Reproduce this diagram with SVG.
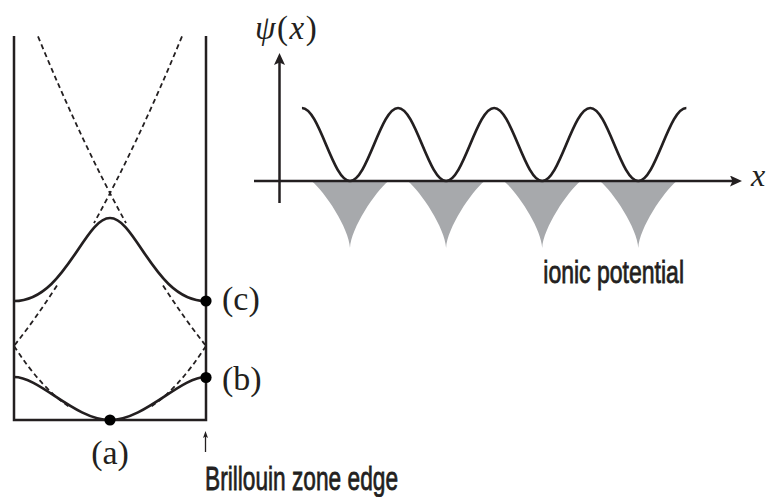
<svg xmlns="http://www.w3.org/2000/svg" width="770" height="497" viewBox="0 0 770 497">
  <style>
    .ln { fill: none; stroke: #231f20; stroke-width: 2.5; }
    .band { fill: none; stroke: #231f20; stroke-width: 2.7; }
    .dash { fill: none; stroke: #231f20; stroke-width: 1.8; stroke-dasharray: 5 3.5; }
    .dot { fill: #000; }
    .pot { fill: #a7a9ac; }
    .cm { font-family: "Liberation Serif", "Times New Roman", serif; fill: #231f20; }
    .sans { font-family: "Liberation Sans", Arial, sans-serif; fill: #231f20; stroke: #231f20; stroke-width: 0.8; }
  </style>
  <defs>
    <marker id="ah" viewBox="0 0 12 11" refX="3" refY="5.5" markerWidth="12" markerHeight="11" markerUnits="userSpaceOnUse" orient="auto">
      <path d="M0,0 L12,5.5 L0,11 L2.5,5.5 Z" fill="#231f20"/>
    </marker>
    <marker id="ahs" viewBox="0 0 7 5" refX="2" refY="2.5" markerWidth="7" markerHeight="5" markerUnits="userSpaceOnUse" orient="auto">
      <path d="M0,0 L7,2.5 L0,5 L1.5,2.5 Z" fill="#231f20"/>
    </marker>
    <path id="well" d="M-38.5,0 C-25,11 -1,47 0,67 C1,47 25,11 38.5,0 Z"/>
  </defs>

  <!-- Left panel: reduced zone band structure -->
  <g id="zone-box">
    <path class="ln" d="M14,36 V420 H206 V36"/>
  </g>
  <g id="free-electron-parabolas">
    <path class="dash" d="M38,36.35 Q82,143.2 126,223.1"/>
    <path class="dash" d="M163,285.45 Q184.5,318.9 206,345.9"/>
    <path class="dash" d="M182,36.35 Q138,143.2 94,223.1"/>
    <path class="dash" d="M57,285.45 Q35.5,318.9 14,345.9"/>
    <path class="dash" d="M14,346 Q42,389.2 70,407.2"/>
    <path class="dash" d="M206,346 Q178,389.2 150,407.2"/>
  </g>
  <g id="upper-band">
    <path class="band" d="M14,301 C65,301 84,218 110,218 C136,218 155,301 206,301"/>
  </g>
  <g id="lower-band">
    <path class="band" d="M14,377 C40,377 75,420 110,420 C145,420 180,377 206,377"/>
  </g>
  <g id="point-a">
    <circle class="dot" cx="110" cy="420" r="5.6"/>
    <text class="cm" x="110" y="464" font-size="34" text-anchor="middle">(a)</text>
  </g>
  <g id="point-b">
    <circle class="dot" cx="206" cy="377.5" r="5.6"/>
    <text class="cm" x="222" y="390" font-size="34">(b)</text>
  </g>
  <g id="point-c">
    <circle class="dot" cx="206" cy="301" r="5.6"/>
    <text class="cm" x="222" y="310" font-size="34">(c)</text>
  </g>
  <g id="zone-edge-label">
    <text class="sans" x="205" y="490" font-size="34" textLength="193" lengthAdjust="spacingAndGlyphs">Brillouin zone edge</text>
  </g>

  <!-- Right panel: wavefunction and ionic potential -->
  <g id="ionic-potential">
    <use href="#well" class="pot" transform="translate(350,181)"/>
    <use href="#well" class="pot" transform="translate(446.1,181)"/>
    <use href="#well" class="pot" transform="translate(542.2,181)"/>
    <use href="#well" class="pot" transform="translate(638.3,181)"/>
    <text class="sans" x="543.3" y="282.5" font-size="32" textLength="140.7" lengthAdjust="spacingAndGlyphs">ionic potential</text>
  </g>
  <g id="wavefunction">
    <path class="band" d="M301.95,108 c17.46,0 30.59,73 48.05,73 c17.46,0 30.59,-73 48.05,-73 c17.46,0 30.59,73 48.05,73 c17.46,0 30.59,-73 48.05,-73 c17.46,0 30.59,73 48.05,73 c17.46,0 30.59,-73 48.05,-73 c17.46,0 30.59,73 48.05,73 c17.46,0 30.59,-73 48.05,-73"/>
  </g>
  <g id="axis-labels">
    <text class="cm" x="255" y="39" font-size="33" letter-spacing="1.5"><tspan font-style="italic">ψ</tspan>(<tspan font-style="italic">x</tspan>)</text>
    <text class="cm" x="751" y="186" font-size="32" font-style="italic">x</text>
  </g>

  <!-- Connectors: axes and zone-edge pointer -->
  <g id="connectors">
    <path class="ln" d="M279.5,203 V62" marker-end="url(#ah)"/>
    <path class="ln" d="M254,181 H733" marker-end="url(#ah)"/>
    <path fill="none" stroke="#231f20" stroke-width="1.3" d="M205.5,452 V436" marker-end="url(#ahs)"/>
  </g>
</svg>
